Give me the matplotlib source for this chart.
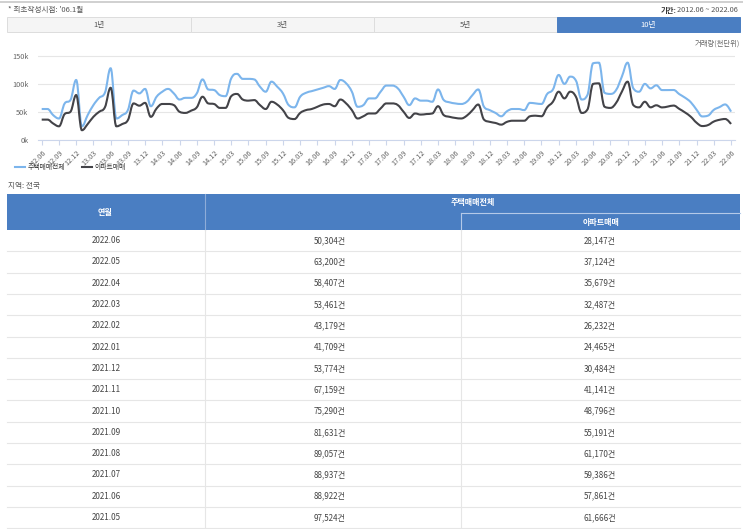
import matplotlib
matplotlib.use('Agg')
import matplotlib.pyplot as plt
from matplotlib.path import Path
from matplotlib.patches import PathPatch, Rectangle

plt.rcParams['font.family'] = ['Noto Sans CJK KR', 'DejaVu Sans']

# Monthly volume in thousands, 2012.06 ~ 2021.04
house_est = [55, 55, 44, 38, 65, 71, 107,
             24, 44, 62, 75, 84, 128, 38, 44, 53, 88, 83, 91,
             60, 77, 86, 91, 83, 72, 75, 75, 83, 108, 90, 89,
             80, 78, 110, 118, 109, 109, 108, 95, 86, 104, 95, 83,
             62, 58, 77, 84, 87, 90, 93, 96, 91, 107, 101, 86,
             59, 62, 74, 74, 86, 97, 97, 92, 77, 62, 74, 70,
             70, 68, 90, 71, 67, 65, 64, 68, 80, 90, 59, 53,
             48, 42, 51, 55, 55, 53, 66, 65, 64, 82, 90, 116,
             100, 113, 106, 72, 80, 137, 138, 84, 82, 89, 113, 138,
             92, 86, 100, 92]
apt_est = [36, 36, 29, 24, 46, 50, 80,
           17, 28, 41, 50, 58, 93, 24, 28, 35, 65, 61, 66,
           41, 56, 64, 64, 62, 50, 48, 52, 58, 77, 65, 64,
           57, 57, 78, 82, 72, 70, 71, 62, 55, 68, 63, 53,
           39, 37, 48, 53, 55, 59, 63, 64, 60, 72, 65, 53,
           38, 42, 47, 47, 56, 65, 65, 62, 50, 39, 47, 45,
           46, 47, 60, 44, 41, 39, 38, 43, 53, 63, 36, 32,
           30, 27, 32, 34, 34, 34, 42, 43, 42, 58, 68, 86,
           74, 86, 77, 48, 54, 100, 101, 59, 57, 66, 86, 104,
           62, 58, 68, 58]

# Table rows, latest first
table_months = ['2022.06', '2022.05', '2022.04', '2022.03', '2022.02', '2022.01', '2021.12',
                '2021.11', '2021.10', '2021.09', '2021.08', '2021.07', '2021.06', '2021.05']
table_house = [50304, 63200, 58407, 53461, 43179, 41709, 53774,
               67159, 75290, 81631, 89057, 88937, 88922, 97524]
table_apt = [28147, 37124, 35679, 32487, 26232, 24465, 30484,
             41141, 48796, 55191, 61170, 59386, 57861, 61666]

tabs = ['1년', '3년', '5년', '10년']
series_names = ['주택매매전체', '아파트매매']
y_ticks = [0, 50, 100, 150]
y_tick_labels = ['0k', '50k', '100k', '150k']

# chart series = estimates + table values (oldest first)
house = house_est + [v / 1000 for v in table_house[::-1]]
apt = apt_est + [v / 1000 for v in table_apt[::-1]]
month_labels = ['%02d.%02d' % ((2012 + (5 + i) // 12) % 100, (5 + i) % 12 + 1) for i in range(len(house))]

W, H = 743, 529
fig = plt.figure(figsize=(W / 100, H / 100), dpi=100)
fig.patch.set_facecolor('white')

# background axes in pixel coordinates
bg = fig.add_axes([0, 0, 1, 1])
bg.set_xlim(0, W)
bg.set_ylim(H, 0)
bg.axis('off')

bg.plot([0, W], [1.5, 1.5], color='#c8c8c8', lw=1.2)
bg.text(8, 10, "* 최초작성시점: '06.1월", fontsize=5.5, color='#555555', va='center')
period = bg.text(738, 10, '2012.06 ~ 2022.06', fontsize=5.3, color='#555555', va='center', ha='right')
fig.canvas.draw()
ext = period.get_window_extent()
left_px = ext.x0  # display pixels == image pixels at dpi 100
bg.text(left_px - 1, 10, '기간:', fontsize=5.3, color='#333333', va='center', ha='right', fontweight='bold')

# tabs
tab_edges = [7, 190.5, 373.5, 557, 740]
for i, t in enumerate(tabs):
    x0, x1 = tab_edges[i], tab_edges[i + 1]
    active = i == len(tabs) - 1
    bg.add_patch(Rectangle((x0, 17), x1 - x0, 14.5, facecolor='#4a7ec2' if active else '#f5f5f5',
                           edgecolor='#4a7ec2' if active else '#dddddd', lw=0.7))
    bg.text((x0 + x1) / 2, 24.5, t, fontsize=5.5, ha='center', va='center',
            color='white' if active else '#555555')

bg.text(740, 44, '거래량(천단위)', fontsize=5.3, color='#666666', ha='right', va='center')

# legend
line_colors = ['#7cb5ec', '#434348']
bg.plot([15, 25], [167, 167], color=line_colors[0], lw=1.5)
bg.text(27.5, 167, series_names[0], fontsize=4.9, color='#333333', va='center')
bg.plot([82, 92], [167, 167], color=line_colors[1], lw=1.5)
bg.text(95, 167, series_names[1], fontsize=4.9, color='#333333', va='center')

bg.text(8, 186, '지역: 전국', fontsize=5.5, color='#555555', va='center')

# table header
hdr = '#4a7ec2'
bg.add_patch(Rectangle((7, 194), 733, 36, facecolor=hdr, edgecolor='none'))
bg.plot([204.5, 204.5], [194, 230], color='#8eacd8', lw=0.8)
bg.plot([460.5, 740], [213, 213], color='#b4c9e8', lw=0.8)
bg.plot([460.5, 460.5], [213, 230], color='#b4c9e8', lw=0.8)
bg.text(105, 212, '연월', fontsize=5.8, color='white', ha='center', va='center', fontweight='bold')
bg.text(473, 203, series_names[0], fontsize=5.8, color='white', ha='center', va='center', fontweight='bold')
bg.text(601, 222, series_names[1], fontsize=5.8, color='white', ha='center', va='center', fontweight='bold')

# table body
row_h = 21.3
for k in range(len(table_months)):
    yc = 230 + row_h * (k + 0.5)
    bg.text(106, yc, table_months[k], fontsize=5.8, color='#444444', ha='center', va='center')
    bg.text(330, yc, f'{table_house[k]:,}건', fontsize=5.8, color='#444444', ha='center', va='center')
    bg.text(600, yc, f'{table_apt[k]:,}건', fontsize=5.8, color='#444444', ha='center', va='center')
    bg.plot([7, 740], [230 + row_h * (k + 1)] * 2, color='#e6e6e6', lw=0.8)
bg.plot([204.5, 204.5], [230, H], color='#e6e6e6', lw=0.8)
bg.plot([460.5, 460.5], [230, H], color='#e6e6e6', lw=0.8)

# chart
px_k = (139.7 - 56) / 150
top = 139.7 - 151 * px_k
ax = fig.add_axes([38 / W, 1 - 139.7 / H, (735 - 38) / W, (139.7 - top) / H])
ax.set_facecolor('none')
step = (731 - 41.7) / 120
ax.set_xlim(-(41.7 - 38) / step, 120 + (735 - 731) / step)
ax.set_ylim(0, 151)


def spline(ys):
    # highcharts-style spline segments
    xs = list(range(len(ys)))
    verts = [(xs[0], ys[0])]
    codes = [Path.MOVETO]
    rc = (xs[0], ys[0])
    for i in range(1, len(ys)):
        x, y = xs[i], ys[i]
        lx, ly = x, y
        nrc = (x, y)
        if i < len(ys) - 1:
            px_, py_ = xs[i - 1], ys[i - 1]
            nx, ny = xs[i + 1], ys[i + 1]
            lx = (1.5 * x + px_) / 2.5
            ly = (1.5 * y + py_) / 2.5
            rx = (1.5 * x + nx) / 2.5
            ry = (1.5 * y + ny) / 2.5
            corr = (ry - ly) * (rx - x) / (rx - lx) + y - ry
            ly += corr
            ry += corr
            if ly > py_ and ly > y:
                ly = max(py_, y)
                ry = 2 * y - ly
            elif ly < py_ and ly < y:
                ly = min(py_, y)
                ry = 2 * y - ly
            if ry > ny and ry > y:
                ry = max(ny, y)
                ly = 2 * y - ry
            elif ry < ny and ry < y:
                ry = min(ny, y)
                ly = 2 * y - ry
            nrc = (rx, ry)
        verts += [rc, (lx, ly), (x, y)]
        codes += [Path.CURVE4] * 3
        rc = nrc
    return Path(verts, codes)


for ys, c in zip([house, apt], line_colors):
    ax.add_patch(PathPatch(spline(ys), facecolor='none', edgecolor=c, lw=1.5, zorder=3))

ax.set_yticks(y_ticks)
ax.set_yticklabels(y_tick_labels)
ax.yaxis.grid(True, color='#e6e6e6', lw=0.8)
ax.set_axisbelow(True)
ax.tick_params(axis='y', length=0, pad=7, labelsize=5.3, labelcolor='#666666')
ax.set_xticks(range(0, len(house), 3))
ax.set_xticklabels(month_labels[::3], rotation=45, ha='right', rotation_mode='anchor')
ax.tick_params(axis='x', length=3.5, color='#ccd6eb', width=0.8, pad=3,
               labelsize=5.3, labelcolor='#666666')
for s in ['top', 'right', 'left']:
    ax.spines[s].set_visible(False)
ax.spines['bottom'].set_color('#ccd6eb')
ax.spines['bottom'].set_linewidth(0.8)

fig.savefig('out.png', dpi=100)
